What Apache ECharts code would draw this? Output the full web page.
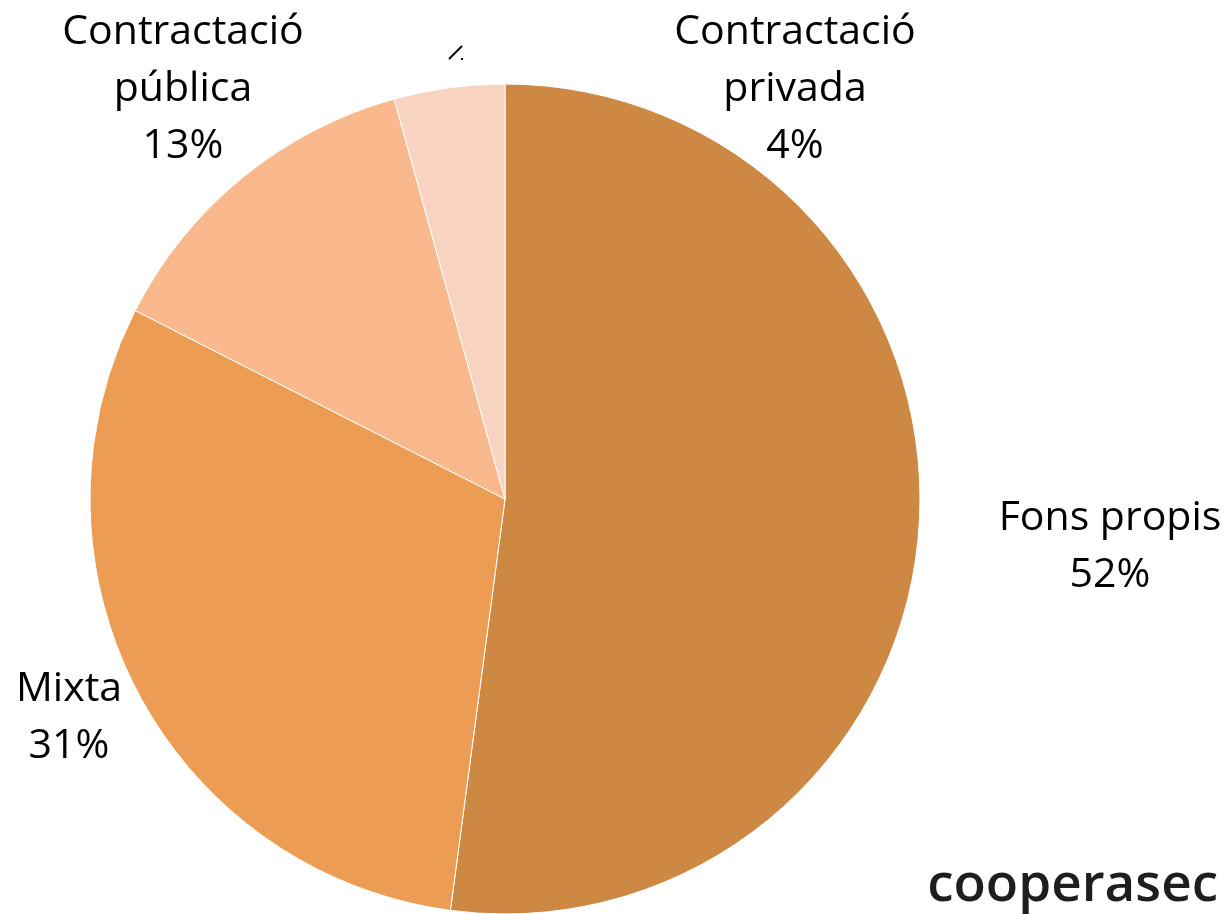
<!DOCTYPE html>
<html>
<head>
<meta charset="utf-8">
<script src="https://cdn.jsdelivr.net/npm/echarts@6/dist/echarts.min.js"></script>
<style>
  html, body { margin: 0; padding: 0; background: #fff; }
  #chart { width: 1228px; height: 914px; }
</style>
</head>
<body>
<div id="chart"></div>
<script>
// categories and shares (%), clockwise from 12 o'clock
const categories = ['Fons propis', 'Mixta', 'Contractació pública', 'Contractació privada'];
const shares = [52.1, 30.4, 13.2, 4.3];
const labelText = ['Fons propis\n52%', 'Mixta\n31%', 'Contractació\npública\n13%', 'Contractació\nprivada\n4%'];

const colors = ['#CD8844', '#EC9D53', '#F9B98D', '#F9D3C2'];
// where the labels sit (Excel placed them by hand)
const labelPos = [[1110, 547], [69, 718], [183, 89], [795, 89]];

const chart = echarts.init(document.getElementById('chart'));

chart.setOption({
  animation: false,
  color: colors,
  series: [{
    type: 'pie',
    center: [505, 499],
    radius: 415,
    startAngle: 90,
    clockwise: true,
    data: categories.map((name, i) => ({ name: name, value: shares[i] })),
    itemStyle: { borderColor: '#fff', borderWidth: 1 },
    label: {
      show: true,
      position: 'outside',
      formatter: (p) => labelText[p.dataIndex],
      fontFamily: 'Open Sans',
      fontSize: 41,
      lineHeight: 57,
      color: '#000',
      align: 'center',
      overflow: 'none',
      width: 320
    },
    labelLine: { show: false },
    labelLayout: (p) => ({
      x: labelPos[p.dataIndex][0],
      y: labelPos[p.dataIndex][1],
      align: 'center',
      verticalAlign: 'middle'
    })
  }],
  graphic: [
    {
      type: 'line',
      shape: { x1: 449, y1: 59, x2: 462, y2: 46 },
      style: { stroke: '#000', lineWidth: 2 }
    },
    {
      type: 'rect',
      shape: { x: 461, y: 58, width: 2, height: 2 },
      style: { fill: '#000' }
    },
    {
      type: 'text',
      right: 10,
      bottom: 2,
      style: {
        text: 'cooperasec',
        font: '600 53px "Open Sans"',
        fill: '#1e1e1e'
      }
    }
  ]
});
</script>
</body>
</html>
